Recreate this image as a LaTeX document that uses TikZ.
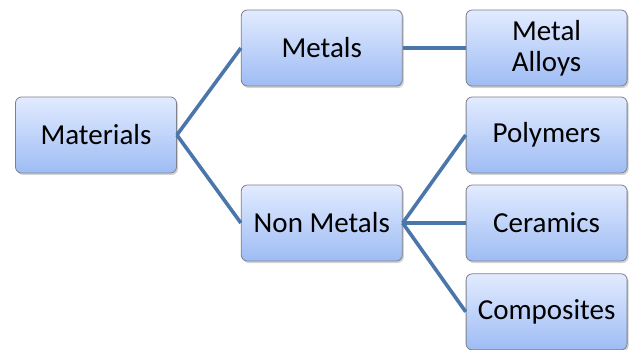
\documentclass[tikz,border=0pt]{standalone}
\usepackage{fontspec}
\setmainfont{Carlito}
\usepackage{xcolor}
\usepackage{tikz}
\usetikzlibrary{positioning,shadows}
\definecolor{boxtop}{RGB}{226,235,255}
\definecolor{boxbot}{RGB}{158,188,244}
\definecolor{boxedge}{RGB}{125,130,140}
\definecolor{linkblue}{RGB}{74,118,172}
\tikzset{
  mbox/.style={rectangle,rounded corners=6pt,draw=boxedge,line width=0.8pt,
               top color=boxtop,bottom color=boxbot,
               minimum width=161pt,minimum height=76pt,align=center,
               font=\fontsize{29}{31}\selectfont,
               drop shadow={opacity=0.35,shadow xshift=1.5pt,shadow yshift=-2pt}},
  link/.style={line width=3.6pt,color=linkblue},
}
\begin{document}
\begin{tikzpicture}
    \useasboundingbox (-96pt,-215pt) rectangle (533pt,135pt);

    \node[mbox] (mat) {Materials};
    \node[mbox,right=64pt of mat,yshift=87pt]  (met) {Metals};
    \node[mbox,right=64pt of mat,yshift=-88pt] (non) {Non Metals};
    \node[mbox,right=63pt of met]  (all) {Metal\\Alloys};
    \node[mbox,right=63pt of non,yshift=88pt] (pol) {Polymers};
    \node[mbox,right=63pt of non]  (cer) {Ceramics};
    \node[mbox,below=12pt of cer]  (com) {Composites};

    \draw[link] (mat.east)--(met.west);
    \draw[link] (mat.east)--(non.west);
    \draw[link] (met.east)--(all.west);
    \draw[link] (non.east)--(pol.west);
    \draw[link] (non.east)--(cer.west);
    \draw[link] (non.east)--(com.west);
  \end{tikzpicture}
\end{document}
